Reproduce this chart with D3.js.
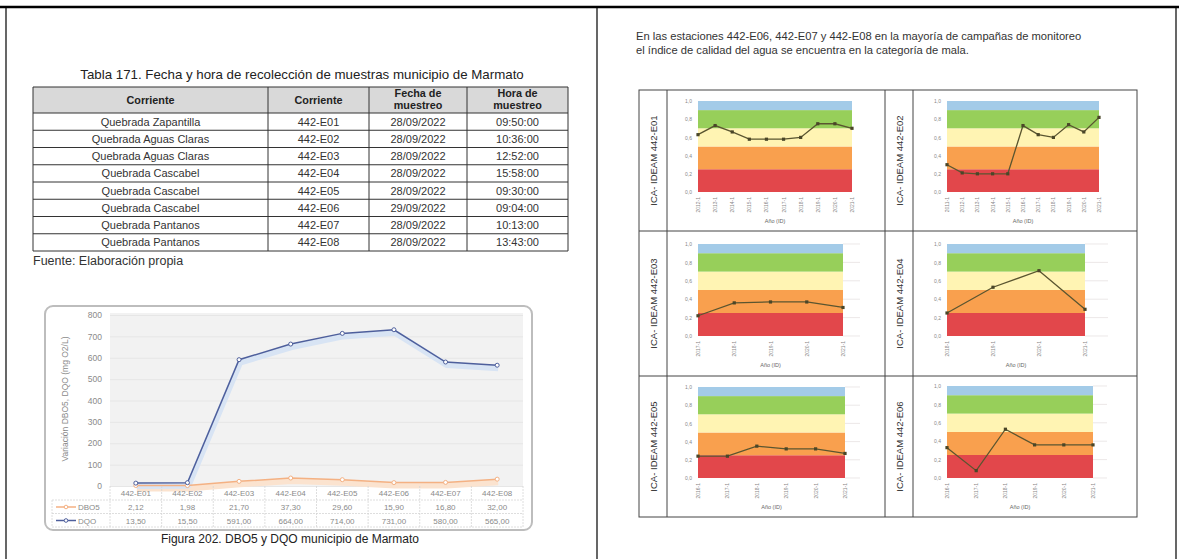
<!DOCTYPE html>
<html><head><meta charset="utf-8">
<script src="https://cdn.jsdelivr.net/npm/d3@7"></script>
<style>body{margin:0;background:#fff;} svg{display:block;font-family:"Liberation Sans",Arial,sans-serif;}</style>
</head><body><svg id="c" width="1179" height="559"></svg>
<script>
// ---------- DATA ----------
const tableTitle = "Tabla 171. Fecha y hora de recolección de muestras municipio de Marmato";
const tableHeaders = [["Corriente"], ["Corriente"], ["Fecha de", "muestreo"], ["Hora de", "muestreo"]];
const tableCorrientes = ["Quebrada Zapantilla", "Quebrada Aguas Claras", "Quebrada Aguas Claras", "Quebrada Cascabel", "Quebrada Cascabel", "Quebrada Cascabel", "Quebrada Pantanos", "Quebrada Pantanos"];
const tableEstaciones = ["442-E01", "442-E02", "442-E03", "442-E04", "442-E05", "442-E06", "442-E07", "442-E08"];
const tableFechas = ["28/09/2022", "28/09/2022", "28/09/2022", "28/09/2022", "28/09/2022", "29/09/2022", "28/09/2022", "28/09/2022"];
const tableHoras = ["09:50:00", "10:36:00", "12:52:00", "15:58:00", "09:30:00", "09:04:00", "10:13:00", "13:43:00"];
const tableSource = "Fuente: Elaboración propia";

const categories = ["442-E01", "442-E02", "442-E03", "442-E04", "442-E05", "442-E06", "442-E07", "442-E08"];
const seriesNames = ["DBO5", "DQO"];
const dbo5 = [2.12, 1.98, 21.70, 37.30, 29.60, 15.90, 16.80, 32.00];
const dqo = [13.50, 15.50, 591.00, 664.00, 714.00, 731.00, 580.00, 565.00];
const yTicks = [0, 100, 200, 300, 400, 500, 600, 700, 800];
const yTitle = "Variación DBO5, DQO (mg O2/L)";
const figCaption = "Figura 202. DBO5 y DQO municipio de Marmato";

const paragraph = ["En las estaciones 442-E06, 442-E07 y 442-E08 en la mayoría de campañas de monitoreo",
                   "el índice de calidad del agua se encuentra en la categoría de mala."];

const icaNames = ["ICA- IDEAM 442-E01", "ICA- IDEAM 442-E02", "ICA- IDEAM 442-E03", "ICA- IDEAM 442-E04", "ICA- IDEAM 442-E05", "ICA- IDEAM 442-E06"];
const icaE01 = [0.63, 0.73, 0.66, 0.58, 0.58, 0.58, 0.60, 0.75, 0.75, 0.70];
const icaE02 = [0.30, 0.21, 0.20, 0.20, 0.20, 0.73, 0.63, 0.60, 0.74, 0.66, 0.82];
const icaE03 = [0.22, 0.36, 0.37, 0.37, 0.31];
const icaE04 = [0.25, 0.53, 0.71, 0.29];
const icaE05 = [0.24, 0.24, 0.35, 0.32, 0.32, 0.27];
const icaE06 = [0.33, 0.08, 0.53, 0.36, 0.36, 0.36];
const icaLabelsE01 = ["2012-1", "2013-1", "2014-1", "2015-1", "2016-1", "2017-1", "2018-1", "2019-1", "2020-1", "2021-1"];
const icaLabelsE02 = ["2011-1", "2012-1", "2013-1", "2014-1", "2015-1", "2016-1", "2017-1", "2018-1", "2019-1", "2020-1", "2021-1"];
const icaLabelsE03 = ["2017-1", "2018-1", "2019-1", "2020-1", "2021-1"];
const icaLabelsE04 = ["2018-1", "2019-1", "2020-1", "2021-1"];
const icaLabelsE05 = ["2016-1", "2017-1", "2018-1", "2019-1", "2020-1", "2021-1"];
const icaLabelsE06 = ["2016-1", "2017-1", "2018-1", "2019-1", "2020-1", "2021-1"];
const icaBreaks = [0, 0.25, 0.5, 0.7, 0.9, 1.0];
const icaTicks = [0, 0.2, 0.4, 0.6, 0.8, 1.0];
const icaXTitle = "Año (ID)";

// ---------- DRAW ----------
const svg = d3.select("#c");
const fmt = v => d3.format(".2f")(v).replace(".", ",");

// frame
const frame = svg.append("g").attr("stroke", "#000");
frame.append("line").attr("x1", 0).attr("x2", 1179).attr("y1", 7).attr("y2", 7).attr("stroke-width", 2.5);
frame.append("line").attr("x1", 6).attr("x2", 6).attr("y1", 7).attr("y2", 559).attr("stroke-width", 1.2);
frame.append("line").attr("x1", 597).attr("x2", 597).attr("y1", 7).attr("y2", 559).attr("stroke-width", 1.2);
frame.append("line").attr("x1", 1176).attr("x2", 1176).attr("y1", 7).attr("y2", 559).attr("stroke-width", 1.2);

// ---------- TABLE ----------
const tg = svg.append("g");
tg.append("text").attr("x", 302).attr("y", 79).attr("text-anchor", "middle")
  .attr("font-size", 13.3).attr("fill", "#222").text(tableTitle);
const colX = [33, 268, 369, 467, 568];
const headTop = 87, headBot = 113, rowH = (251 - 113) / 8;
tg.append("rect").attr("x", colX[0]).attr("y", headTop).attr("width", colX[4] - colX[0]).attr("height", headBot - headTop)
  .attr("fill", "#d9d9d9");
const cols = [tableCorrientes, tableEstaciones, tableFechas, tableHoras];
tableHeaders.forEach((h, i) => {
  const cx = (colX[i] + colX[i + 1]) / 2;
  const t = tg.append("text").attr("text-anchor", "middle").attr("font-size", 10.8).attr("font-weight", "bold").attr("fill", "#222");
  if (h.length === 1) t.append("tspan").attr("x", cx).attr("y", (headTop + headBot) / 2 + 4).text(h[0]);
  else h.forEach((s, k) => t.append("tspan").attr("x", cx).attr("y", headTop + 10 + k * 11.5).text(s));
});
tableCorrientes.forEach((_, r) => {
  const yy = headBot + r * rowH;
  cols.forEach((col, i) => {
    tg.append("text").attr("x", (colX[i] + colX[i + 1]) / 2).attr("y", yy + rowH / 2 + 4)
      .attr("text-anchor", "middle").attr("font-size", 11).attr("fill", "#333").text(col[r]);
  });
});
const tl = tg.append("g").attr("stroke", "#333").attr("stroke-width", 1);
for (let r = 0; r <= 8; r++) tl.append("line").attr("x1", colX[0]).attr("x2", colX[4]).attr("y1", headBot + r * rowH).attr("y2", headBot + r * rowH);
tl.append("line").attr("x1", colX[0]).attr("x2", colX[4]).attr("y1", headTop).attr("y2", headTop);
colX.forEach(x => tl.append("line").attr("x1", x).attr("x2", x).attr("y1", headTop).attr("y2", 251));
tg.append("text").attr("x", 33).attr("y", 265).attr("font-size", 12.5).attr("fill", "#333").text(tableSource);

// ---------- LEFT CHART ----------
const lc = svg.append("g");
lc.append("rect").attr("x", 45).attr("y", 306).attr("width", 487).attr("height", 224).attr("rx", 8)
  .attr("fill", "#fff").attr("stroke", "#bdbdbd").attr("stroke-width", 2);
const pL = 110, pR = 523, pT = 313, pB = 486;
lc.append("rect").attr("x", pL).attr("y", pT).attr("width", pR - pL).attr("height", pB - pT).attr("fill", "#f2f2f2");
const x = d3.scalePoint().domain(categories).range([pL, pR]).padding(0.5);
const y = d3.scaleLinear().domain([0, 800]).range([pB, 315]);
lc.append("g").attr("transform", `translate(${pL},0)`)
  .call(d3.axisLeft(y).tickValues(yTicks).tickSize(-(pR - pL)).tickFormat(""))
  .call(g => g.select(".domain").remove())
  .call(g => g.selectAll("line").attr("stroke", "#e6e6e6"));
lc.append("g").attr("transform", `translate(${pL},0)`)
  .call(d3.axisLeft(y).tickValues(yTicks).tickSize(0).tickPadding(8))
  .call(g => g.select(".domain").remove())
  .call(g => g.selectAll("text").attr("font-size", 8.5).attr("fill", "#8a8a8a").attr("font-family", "Liberation Sans, Arial"));
lc.append("text").attr("transform", "translate(68,399) rotate(-90)").attr("text-anchor", "middle")
  .attr("font-size", 8.5).attr("fill", "#8a8a8a").text(yTitle);

const seriesData = [dbo5, dqo];
const seriesColors = ["#f4b183", "#4e5f9c"];
const shadowColors = ["#fbe3cf", "#d8e4f4"];
const line = d3.line().x((d, i) => x(categories[i])).y(d => y(d));
seriesData.forEach((s, k) => {
  lc.append("path").datum(s).attr("d", line).attr("fill", "none").attr("stroke", shadowColors[k])
    .attr("stroke-width", 6).attr("transform", "translate(1,3)").attr("stroke-linejoin", "round");
});
seriesData.forEach((s, k) => {
  lc.append("path").datum(s).attr("d", line).attr("fill", "none").attr("stroke", seriesColors[k]).attr("stroke-width", 1.5);
  lc.selectAll(null).data(s).enter().append("circle").attr("cx", (d, i) => x(categories[i])).attr("cy", d => y(d))
    .attr("r", 2).attr("fill", "#fff").attr("stroke", seriesColors[k]).attr("stroke-width", 1);
});
const dt = lc.append("g");
const rowY = [486, 500, 513.5, 527];
const dl = dt.append("g").attr("stroke", "#d6d6d6").attr("stroke-width", 0.8).attr("stroke-dasharray", "2,1");
rowY.slice(1).forEach(yy => dl.append("line").attr("x1", 52).attr("x2", pR).attr("y1", yy).attr("y2", yy));
const step = x.step();
categories.forEach(c => dl.append("line").attr("x1", x(c) - step / 2).attr("x2", x(c) - step / 2).attr("y1", 486).attr("y2", 527));
dl.append("line").attr("x1", pR).attr("x2", pR).attr("y1", 486).attr("y2", 527);
dl.append("line").attr("x1", 52).attr("x2", 52).attr("y1", 500).attr("y2", 527);
categories.forEach((c, i) => {
  dt.append("text").attr("x", x(c)).attr("y", 496).attr("text-anchor", "middle").attr("font-size", 8).attr("fill", "#8a8a8a").text(c);
  seriesData.forEach((s, k) => {
    dt.append("text").attr("x", x(c)).attr("y", 510 + k * 13.5).attr("text-anchor", "middle").attr("font-size", 8).attr("fill", "#8a8a8a").text(fmt(s[i]));
  });
});
seriesNames.forEach((n, k) => {
  const yy = 507 + k * 13.5;
  dt.append("line").attr("x1", 56).attr("x2", 76).attr("y1", yy).attr("y2", yy).attr("stroke", seriesColors[k]).attr("stroke-width", 1.5);
  dt.append("circle").attr("cx", 66).attr("cy", yy).attr("r", 1.8).attr("fill", "#fff").attr("stroke", seriesColors[k]);
  dt.append("text").attr("x", 78).attr("y", yy + 3).attr("font-size", 8).attr("fill", "#8a8a8a").text(n);
});
lc.append("text").attr("x", 290).attr("y", 543).attr("text-anchor", "middle").attr("font-size", 12).attr("fill", "#222").text(figCaption);

// ---------- RIGHT: PARAGRAPH ----------
paragraph.forEach((p, i) => {
  svg.append("text").attr("x", 636).attr("y", 40 + i * 14).attr("font-size", 11.2).attr("fill", "#333").text(p);
});

// ---------- RIGHT: ICA GRID ----------
const gL = 639, gM = 885, gR = 1137, rowsY = [90, 231, 376, 517], lblW = 28;
const gridG = svg.append("g").attr("stroke", "#444").attr("stroke-width", 1).attr("fill", "none");
gridG.append("rect").attr("x", gL).attr("y", rowsY[0]).attr("width", gR - gL).attr("height", rowsY[3] - rowsY[0]);
gridG.append("line").attr("x1", gM).attr("x2", gM).attr("y1", rowsY[0]).attr("y2", rowsY[3]);
[rowsY[1], rowsY[2]].forEach(yy => gridG.append("line").attr("x1", gL).attr("x2", gR).attr("y1", yy).attr("y2", yy));
[gL + lblW, gM + lblW].forEach(xx => gridG.append("line").attr("x1", xx).attr("x2", xx).attr("y1", rowsY[0]).attr("y2", rowsY[3]));

const bandColors = ["#e2474b", "#f9a04e", "#fff4b3", "#97cf5a", "#a3cbe8"];
const panelLayout = [
  { left: 698, bandRight: 852, gridRight: 852, top: 101, bottom: 192 },
  { left: 947, bandRight: 1099, gridRight: 1099, top: 101, bottom: 192 },
  { left: 698, bandRight: 843, gridRight: 860, top: 244, bottom: 336 },
  { left: 947, bandRight: 1085, gridRight: 1108, top: 244, bottom: 336 },
  { left: 698, bandRight: 845, gridRight: 860, top: 387, bottom: 478 },
  { left: 947, bandRight: 1093, gridRight: 1107, top: 386, bottom: 478 }
];
const icaValues = [icaE01, icaE02, icaE03, icaE04, icaE05, icaE06];
const icaLabels = [icaLabelsE01, icaLabelsE02, icaLabelsE03, icaLabelsE04, icaLabelsE05, icaLabelsE06];

panelLayout.forEach((L, p) => {
  const g = svg.append("g");
  const col = p % 2, row = Math.floor(p / 2);
  const cellX = col === 0 ? gL : gM;
  g.append("text").attr("transform", `translate(${cellX + lblW / 2 + 4},${(rowsY[row] + rowsY[row + 1]) / 2}) rotate(-90)`)
    .attr("text-anchor", "middle").attr("font-size", 9.5).attr("fill", "#333").text(icaNames[p]);
  const ys = d3.scaleLinear().domain([0, 1]).range([L.bottom, L.top]);
  const xs = d3.scalePoint().domain(icaLabels[p]).range([L.left, L.bandRight]);
  if (L.gridRight > L.bandRight) {
    icaTicks.forEach(t => g.append("line").attr("x1", L.bandRight).attr("x2", L.gridRight).attr("y1", ys(t)).attr("y2", ys(t))
      .attr("stroke", "#e4dede").attr("stroke-width", 0.7));
  }
  for (let i = 0; i < icaBreaks.length - 1; i++) {
    g.append("rect").attr("x", L.left).attr("y", ys(icaBreaks[i + 1])).attr("width", L.bandRight - L.left)
      .attr("height", ys(icaBreaks[i]) - ys(icaBreaks[i + 1])).attr("fill", bandColors[i]);
  }
  g.append("g").attr("transform", `translate(${L.left},0)`)
    .call(d3.axisLeft(ys).tickValues(icaTicks).tickSize(0).tickPadding(6).tickFormat(d => d3.format(".1f")(d).replace(".", ",")))
    .call(a => a.select(".domain").remove())
    .call(a => a.selectAll("text").attr("font-size", 5).attr("fill", "#888").attr("font-family", "Liberation Sans, Arial"));
  icaLabels[p].forEach(lab => {
    g.append("text").attr("transform", `translate(${xs(lab) + 2},${L.bottom + 5}) rotate(-90)`).attr("text-anchor", "end")
      .attr("font-size", 5).attr("fill", "#888").text(lab);
  });
  g.append("text").attr("x", (L.left + L.bandRight) / 2).attr("y", L.bottom + 31).attr("text-anchor", "middle")
    .attr("font-size", 5.5).attr("fill", "#666").text(icaXTitle);
  const ln = d3.line().x((d, i) => xs(icaLabels[p][i])).y(d => ys(d));
  g.append("path").datum(icaValues[p]).attr("d", ln).attr("fill", "none").attr("stroke", "#5a5530").attr("stroke-width", 1.3);
  g.selectAll(null).data(icaValues[p]).enter().append("rect")
    .attr("x", (d, i) => xs(icaLabels[p][i]) - 1.6).attr("y", d => ys(d) - 1.6).attr("width", 3.2).attr("height", 3.2).attr("fill", "#4a4628");
});
</script></body></html>
